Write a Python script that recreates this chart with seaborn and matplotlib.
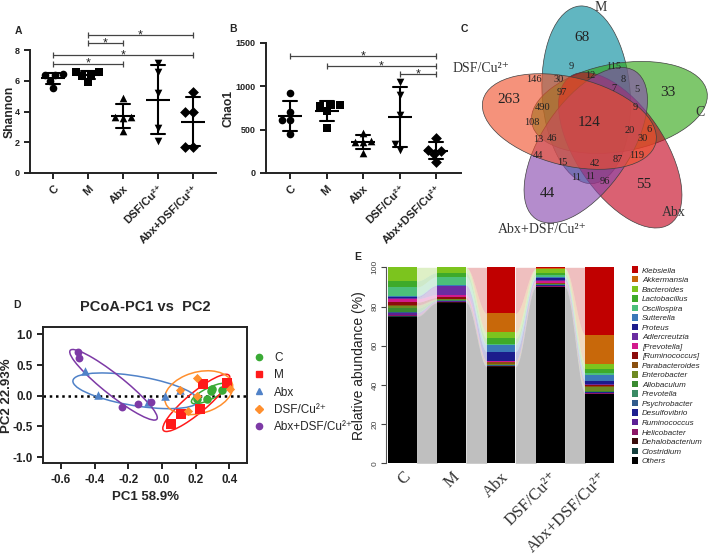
import numpy as np
import pandas as pd
import matplotlib
matplotlib.use("Agg")
import matplotlib.pyplot as plt
from matplotlib.patches import Ellipse, Patch
from matplotlib.lines import Line2D
from matplotlib.ticker import FormatStrFormatter
import seaborn as sns

groups = ["C", "M", "Abx", "DSF/Cu²⁺", "Abx+DSF/Cu²⁺"]
dot_markers = ["o", "s", "^", "v", "D"]

# A - Shannon index
shannon_C = [6.45, 6.40, 6.35, 6.00, 5.55]
shannon_M = [6.60, 6.60, 6.40, 6.30, 5.95]
shannon_Abx = [4.90, 3.65, 3.60, 3.65, 2.70]
shannon_DSF = [7.15, 6.60, 5.20, 2.90, 2.05]
shannon_AbxDSF = [5.30, 4.00, 4.00, 1.70, 1.70]
shannon_sig = [(0, 2, 7.1), (0, 4, 7.65), (1, 2, 8.45), (1, 4, 8.95)]

# B - Chao1
chao1_C = [920, 700, 610, 610, 450]
chao1_M = [790, 790, 770, 720, 520]
chao1_Abx = [460, 360, 355, 365, 230]
chao1_DSF = [1050, 900, 670, 335, 260]
chao1_AbxDSF = [400, 270, 255, 215, 130]
chao1_sig = [(0, 4, 1350), (1, 4, 1235), (3, 4, 1140)]

# C - Venn
venn_sets = ["M", "C", "Abx", "Abx+DSF/Cu²⁺", "DSF/Cu²⁺"]
venn_counts = [68, 9, 12, 115, 146, 30, 8, 5, 33, 263, 97, 7, 490, 9, 108, 124,
               20, 6, 30, 13, 46, 44, 15, 42, 87, 119, 11, 11, 96, 55, 44]

# D - PCoA
pcoa_groups = ["C", "M", "Abx", "DSF/Cu²⁺", "Abx+DSF/Cu²⁺"]
pc1_C = [0.21, 0.27, 0.29, 0.30, 0.355]
pc2_C = [-0.05, -0.05, 0.08, 0.11, 0.095]
pc1_M = [0.054, 0.111, 0.226, 0.244, 0.385]
pc2_M = [-0.46, -0.30, -0.22, 0.187, 0.21]
pc1_Abx = [-0.457, -0.378, -0.08, 0.018, 0.107]
pc2_Abx = [0.40, 0.01, -0.11, 0.0, 0.10]
pc1_DSF = [0.11, 0.157, 0.21, 0.21, 0.405]
pc2_DSF = [0.09, -0.25, 0.295, 0.0, 0.11]
pc1_AbxDSF = [-0.50, -0.493, -0.239, -0.14, -0.067]
pc2_AbxDSF = [0.71, 0.61, -0.18, -0.14, -0.11]

# E - relative abundance (%), legend order, Others last
taxa = ["Klebsiella", "Akkermansia", "Bacteroides", "Lactobacillus", "Oscillospira",
        "Sutterella", "Proteus", "Adlercreutzia", "[Prevotella]", "[Ruminococcus]",
        "Parabacteroides", "Enterobacter", "Allobaculum", "Prevotella", "Psychrobacter",
        "Desulfovibrio", "Ruminococcus", "Helicobacter", "Dehalobacterium", "Clostridium",
        "Others"]
abund_C = [0.0, 0.0, 7.0, 3.1, 4.3, 0.5, 0.6, 0.6, 1.7, 1.4, 0.3, 1.4, 1.8, 0.3, 0.2,
           0.3, 0.6, 0.7, 0.2, 0.2, 74.8]
abund_M = [0.0, 0.0, 2.7, 2.0, 4.3, 0.3, 0.3, 4.3, 1.5, 0.7, 0.3, 0.2, 0.3, 0.2, 0.1,
           0.2, 0.2, 0.3, 0.1, 0.1, 81.9]
abund_Abx = [23.5, 9.7, 3.1, 2.9, 0.3, 3.6, 4.6, 0.2, 0.2, 0.2, 1.2, 0.3, 0.2, 0.1, 0.1,
             0.2, 0.1, 0.1, 0.1, 0.1, 49.2]
abund_DSF = [0.5, 0.2, 2.4, 1.0, 0.8, 0.8, 0.8, 0.6, 0.8, 0.3, 0.2, 0.1, 0.2, 0.2, 0.3,
             0.3, 0.2, 0.2, 0.1, 0.1, 89.9]
abund_AbxDSF = [34.5, 14.8, 2.4, 2.4, 0.6, 3.4, 1.5, 0.2, 0.2, 0.8, 0.4, 1.9, 0.3, 0.2, 0.2,
                0.3, 0.2, 0.2, 0.1, 0.1, 35.3]

# ---------------- style ----------------
sns.set_theme(style="ticks")
SANS = ["Liberation Sans", "DejaVu Sans"]
SERIF = ["Liberation Serif", "DejaVu Serif"]
plt.rcParams["font.family"] = SANS

W, H = 709, 554
fig = plt.figure(figsize=(W / 100, H / 100), dpi=100)


def px_axes(l, t, r, b):
    return fig.add_axes([l / W, 1 - b / H, (r - l) / W, (b - t) / H])


def dot_panel(ax, values, sig, ylabel, yticks, label_x):
    df = pd.DataFrame({"group": np.repeat(groups, 5), "value": np.concatenate(values)})
    for g, m in zip(groups, dot_markers):
        sns.swarmplot(data=df[df.group == g], x="group", y="value", order=groups,
                      marker=m, color="black", size=5.5, ax=ax)
    sns.pointplot(data=df, x="group", y="value", order=groups, errorbar="sd",
                  capsize=0.38, color="black", markers="_", markersize=17,
                  markeredgewidth=1.5, linestyles="none",
                  err_kws={"linewidth": 1.5}, ax=ax)
    ax.set_xlim(-0.66, 4.66)
    ax.set_ylim(yticks[0], yticks[-1])
    ax.set_yticks(yticks)
    ax.set_xlabel("")
    ax.set_ylabel(ylabel, fontsize=8.7, fontweight="bold")
    ax.yaxis.set_label_coords(label_x, 0.5)
    sns.despine(ax=ax)
    for s in ["left", "bottom"]:
        ax.spines[s].set_linewidth(1.4)
        ax.spines[s].set_color("#222222")
    ax.tick_params(width=1.4, length=4, labelsize=6.5, colors="#222222")
    ax.set_xticks(range(len(groups)))
    ax.set_xticklabels(groups, rotation=45, ha="right", rotation_mode="anchor",
                       fontweight="bold", fontsize=8)
    for lbl in ax.get_yticklabels():
        lbl.set_fontweight("bold")
    for i, j, h in sig:
        ax.plot([i, j], [h, h], color="#444444", lw=0.9, marker="|", markersize=4,
                markeredgewidth=0.9, clip_on=False)
        ax.text((i + j) / 2, h, "*", ha="center", va="center", fontsize=9,
                color="#222222")


# ---------------- A ----------------
axA = px_axes(30, 50, 216, 173)
dot_panel(axA, [shannon_C, shannon_M, shannon_Abx, shannon_DSF, shannon_AbxDSF],
          shannon_sig, "Shannon", [0, 2, 4, 6, 8], -0.075)

# ---------------- B ----------------
axB = px_axes(266, 43, 461, 173)
dot_panel(axB, [chao1_C, chao1_M, chao1_Abx, chao1_DSF, chao1_AbxDSF],
          chao1_sig, "Chao1", [0, 500, 1000, 1500], -0.159)
axB.set_xlim(-0.66, 4.68)

# ---------------- C : Venn ----------------
axC = fig.add_axes([470 / W, 1 - 240 / H, 239 / W, 240 / H])
axC.set_xlim(470, 709)
axC.set_ylim(240, 0)
axC.axis("off")
venn_colors = ["#00899c", "#2fa512", "#c4001c", "#8646ad", "#f0502a"]
# ellipse outer tip (pixels) and long-axis direction pointing to that tip
venn_tip = [(580, 6), (707, 92), (670, 224), (536, 219), (483, 100)]
venn_axis_angle = [-94, -10, 56, 124, 194]
venn_a, venn_b = 89.0, 44.0
for col, tip, ang in zip(venn_colors, venn_tip, venn_axis_angle):
    u = np.array([np.cos(np.deg2rad(ang)), np.sin(np.deg2rad(ang))])
    c = np.array(tip) - venn_a * u
    axC.add_patch(Ellipse(c, 2 * venn_a, 2 * venn_b, angle=ang,
                          facecolor=matplotlib.colors.to_rgba(col, 0.62),
                          edgecolor="#404040", lw=0.5))
venn_count_xy = [(581.7, 37.3), (571.7, 66.7), (590, 75), (613.3, 66.7), (534, 80),
                 (558.3, 80), (622.7, 80), (636.7, 89.3), (668.3, 92.7), (509, 99.3),
                 (561.7, 92.7), (614, 88.3), (542.7, 107.3), (635, 107.7), (532.3, 122.7),
                 (589, 122.7), (630, 130.7), (649.3, 129.3), (642.3, 138.3), (538.3, 140),
                 (551.7, 138.3), (538.3, 155), (562.7, 162.7), (595, 164), (617.7, 160),
                 (636.7, 156), (576, 177.3), (590, 176.7), (605, 181.7), (644, 185),
                 (547.3, 193.3)]
venn_big = {0, 8, 9, 15, 29, 30}
for k, (n, (x, y)) in enumerate(zip(venn_counts, venn_count_xy)):
    axC.text(x, y, str(n), ha="center", va="center", family=SERIF,
             fontsize=11 if k in venn_big else 7.5, color="#222222")
venn_label_xy = [(601, 7.5), (700, 112), (674, 213), (542, 230), (481, 68)]
for name, (x, y) in zip(venn_sets, venn_label_xy):
    axC.text(x, y, name, ha="center", va="center", family=SERIF, fontsize=10,
             color="#333333")

# ---------------- D : PCoA ----------------
axD = px_axes(43.3, 327.3, 247.3, 463.3)
pcoa_colors = ["#3aaa35", "#ff1a1a", "#5082c8", "#ff8f2e", "#7d3aa6"]
pcoa_markers = ["o", "s", "^", "D", "o"]
pcoa_sizes = [38, 45, 38, 22, 32]
ellipse_nstd = [2.1, 1.55, 1.5, 1.8, 1.3]
pc1 = [pc1_C, pc1_M, pc1_Abx, pc1_DSF, pc1_AbxDSF]
pc2 = [pc2_C, pc2_M, pc2_Abx, pc2_DSF, pc2_AbxDSF]
axD.axhline(0, color="black", ls=(0, (1, 1.5)), lw=1.8, zorder=1)
for g, x, y, c, m, s, n in zip(pcoa_groups, pc1, pc2, pcoa_colors, pcoa_markers,
                               pcoa_sizes, ellipse_nstd):
    sns.scatterplot(x=x, y=y, color=c, marker=m, s=s, linewidth=0, ax=axD, zorder=3)
    vals, vecs = np.linalg.eigh(np.cov(x, y))
    vals, vecs = vals[::-1], vecs[:, ::-1]
    ang = np.degrees(np.arctan2(vecs[1, 0], vecs[0, 0]))
    axD.add_patch(Ellipse((np.mean(x), np.mean(y)), 2 * n * np.sqrt(vals[0]),
                          2 * n * np.sqrt(vals[1]), angle=ang, fill=False, ec=c, lw=1.1))
axD.set_xlim(-0.705, 0.507)
axD.set_ylim(-1.1, 1.114)
axD.set_xticks([-0.6, -0.4, -0.2, 0.0, 0.2, 0.4])
axD.set_yticks([-1.0, -0.5, 0.0, 0.5, 1.0])
axD.xaxis.set_major_formatter(FormatStrFormatter("%.1f"))
axD.yaxis.set_major_formatter(FormatStrFormatter("%.1f"))
for s in axD.spines.values():
    s.set_linewidth(1.4)
    s.set_color("#222222")
axD.tick_params(width=1.4, length=4, labelsize=8.4, colors="#222222")
for lbl in axD.get_xticklabels() + axD.get_yticklabels():
    lbl.set_fontweight("bold")
axD.set_xlabel("PC1 58.9%", fontsize=9.5, fontweight="bold", labelpad=4)
axD.set_ylabel("PC2 22.93%", fontsize=9.5, fontweight="bold")
axD.yaxis.set_label_coords(-0.149, 0.5)
axD.set_title("PCoA-PC1 vs  PC2", fontsize=10.5, fontweight="bold", pad=12)
handles = [Line2D([], [], marker=m, color=c, ls="none", markersize=4.5)
           for c, m in zip(pcoa_colors, pcoa_markers)]
fig.legend(handles, pcoa_groups, loc="upper left", bbox_to_anchor=(254 / W, 1 - 352 / H),
           frameon=False, fontsize=8.5, handlelength=0.8, handletextpad=0.9,
           labelspacing=0.45, borderpad=0, borderaxespad=0)

# ---------------- E : stacked abundance with flows ----------------
axE = px_axes(386, 267.3, 614, 463.3)
taxa_colors = ["#c00000", "#c8680a", "#7cc41e", "#3eaa2a", "#4cbf7a", "#3a78b8",
               "#1c1c8c", "#6a2ca0", "#d21a8c", "#8c0c0c", "#8a5010", "#6e8a22",
               "#3a8a30", "#3a8a64", "#325c8c", "#1e2090", "#5c2096", "#8c1666",
               "#3a0c0c", "#16403e", "#000000"]
abund = np.array([abund_C, abund_M, abund_Abx, abund_DSF, abund_AbxDSF]).T[::-1]
colors_stack = taxa_colors[::-1]
tops = np.cumsum(abund, axis=0)
bottoms = tops - abund
xpos = np.arange(len(groups))
bar_w = 0.578
for k in range(abund.shape[0]):
    axE.bar(xpos, abund[k], bottom=bottoms[k], width=bar_w, color=colors_stack[k],
            linewidth=0, zorder=3)
    for i in range(len(xpos) - 1):
        xs = np.linspace(xpos[i] + bar_w / 2, xpos[i + 1] - bar_w / 2, 50)
        s = (1 - np.cos(np.pi * np.linspace(0, 1, 50))) / 2
        lo = bottoms[k, i] + (bottoms[k, i + 1] - bottoms[k, i]) * s
        hi = tops[k, i] + (tops[k, i + 1] - tops[k, i]) * s
        axE.fill_between(xs, lo, hi, color=colors_stack[k], alpha=0.25, lw=0, zorder=2)
axE.set_xlim(-0.33, 4.289)
axE.set_ylim(0, 100)
sns.despine(ax=axE, top=True, right=True, bottom=True)
axE.spines["left"].set_bounds(0, 100)
axE.spines["left"].set_color("#555555")
axE.spines["left"].set_linewidth(0.8)
axE.set_yticks([0, 20, 40, 60, 80, 100])
axE.set_yticklabels(["0", "20", "40", "60", "80", "100"], rotation=90, va="center",
                    fontsize=6)
axE.tick_params(axis="y", length=3.5, width=0.8, colors="#444444", pad=2)
axE.set_xticks(xpos)
axE.set_xticklabels(groups, rotation=45, ha="right", rotation_mode="anchor",
                    family=SERIF, fontsize=12, color="#333333")
axE.tick_params(axis="x", length=0, pad=4)
axE.set_ylabel("Relative abundance (%)", fontsize=10, color="#222222", labelpad=4)
fig.legend([Patch(fc=c, ec="none") for c in taxa_colors], taxa, loc="upper left",
           bbox_to_anchor=(631.5 / W, 1 - 266.5 / H), frameon=False,
           prop={"size": 5.8, "style": "italic"}, handlelength=0.85, handleheight=0.85,
           handletextpad=0.45, labelspacing=0.19, borderpad=0, borderaxespad=0)

# ---------------- panel letters ----------------
for letter, (x, y) in zip("ABCDE", [(18, 31), (233, 29), (464, 29), (17, 305), (358, 257)]):
    fig.text(x / W, 1 - y / H, letter, ha="center", va="center", fontsize=7.5,
             fontweight="bold")

fig.savefig("out.png", dpi=100)
